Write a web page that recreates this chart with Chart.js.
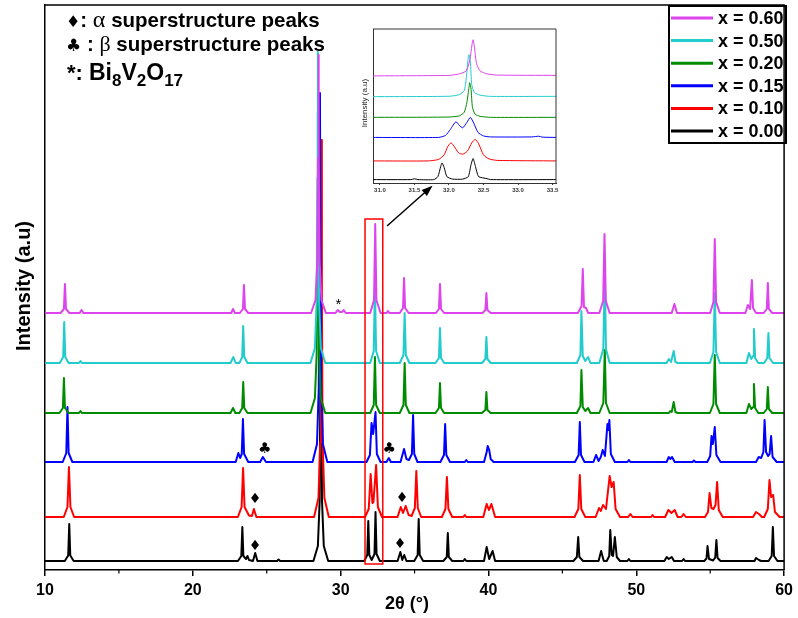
<!DOCTYPE html>
<html><head><meta charset="utf-8">
<script src="https://cdn.jsdelivr.net/npm/chart.js@4.4.0/dist/chart.umd.min.js"></script>
<style>
html,body{margin:0;padding:0;background:#fff;}
#wrap{position:relative;width:798px;height:618px;overflow:hidden;}
#main{position:absolute;left:0;top:0;width:798px;height:618px;}
#inset{position:absolute;left:355px;top:25px;width:210px;height:175px;}
</style></head><body>
<div id="wrap"><canvas id="main" width="798" height="618"></canvas><canvas id="inset" width="210" height="175"></canvas></div>
<script>
// ---------- DATA ----------
const seriesLabels = ['x = 0.60','x = 0.50','x = 0.20','x = 0.15','x = 0.10','x = 0.00'];
const seriesColors = ['#DD44EE','#22CCCC','#008C00','#0000FF','#FF0000','#000000'];
const stackOffsets = [257,207,157,108,53,9];
const xTicks = [10,20,30,40,50,60];
const xMinorTicks = [15,25,35,45,55];
const insetTicks = [31.0,31.5,32.0,32.5,33.0,33.5];
const insetOffsets = [106.7,86,65.4,45.4,22,3.4];

// 2theta, net intensity (a.u.)
const x060 = [[10,0],[11.05,0],[11.28,4],[11.35,29],[11.42,4],[11.65,0],[12.35,0],[12.47,3],[12.6,0],[22.6,0],[22.72,4],[22.85,0],[23.18,0],[23.39,4],[23.46,28],[23.53,4],[23.75,0],[28.0,0],[28.3,13],[28.42,52],[28.47,155],[28.5,258],[28.53,155],[28.58,52],[28.7,13],[29.0,0],[29.65,0],[29.8,3],[29.95,1],[30.1,1],[30.2,3],[30.35,0],[32.0,0],[32.26,13],[32.34,89],[32.42,13],[32.7,0],[33.1,0],[33.2,2],[33.3,0],[34.0,0],[34.22,5],[34.29,35],[34.36,5],[34.6,0],[36.45,0],[36.65,4],[36.72,29],[36.79,4],[37.0,0],[39.6,0],[39.79,3],[39.86,20],[39.93,3],[40.15,0],[46.05,0],[46.3,7],[46.38,44],[46.46,6],[46.6,5],[46.75,0],[47.5,0],[47.76,12],[47.85,79],[47.94,12],[48.2,0],[52.4,0],[52.58,9],[52.75,0],[55.0,0],[55.22,11],[55.31,74],[55.4,11],[55.65,0],[57.38,0],[57.55,8],[57.7,4],[57.82,33],[57.9,5],[58.1,0],[58.62,0],[58.83,4],[58.9,30],[58.97,4],[59.2,0],[60,0]];
const x050 = [[10,0],[11.0,0],[11.23,6],[11.3,41],[11.37,6],[11.6,0],[12.3,0],[12.4,2],[12.5,0],[22.55,0],[22.74,6],[22.9,0],[23.15,0],[23.34,6],[23.41,37],[23.48,6],[23.7,0],[27.96,0],[28.26,15],[28.38,62],[28.43,185],[28.46,311],[28.49,185],[28.54,62],[28.66,15],[28.96,0],[32.0,0],[32.24,12],[32.32,78],[32.4,12],[32.65,0],[34.0,0],[34.25,8],[34.33,50],[34.41,8],[34.65,0],[36.42,0],[36.65,5],[36.72,35],[36.79,5],[37.0,0],[39.56,0],[39.79,4],[39.86,26],[39.93,4],[40.15,0],[45.98,0],[46.22,8],[46.29,52],[46.38,7],[46.55,2],[46.74,6],[46.9,0],[47.5,0],[47.77,14],[47.87,90],[47.95,14],[48.2,0],[52.05,0],[52.2,4],[52.35,1],[52.53,12],[52.65,1],[52.8,0],[54.98,0],[55.22,11],[55.31,70],[55.4,11],[55.65,0],[57.45,0],[57.62,10],[57.78,4],[57.9,7],[57.96,34],[58.04,5],[58.25,0],[58.65,0],[58.86,5],[58.94,30],[59.01,5],[59.25,0],[60,0]];
const x020 = [[10,0],[10.98,0],[11.21,5],[11.28,35],[11.35,5],[11.6,0],[12.3,0],[12.4,2],[12.5,0],[22.55,0],[22.72,5],[22.88,0],[23.15,0],[23.34,5],[23.41,31],[23.48,5],[23.7,0],[27.96,0],[28.26,15],[28.38,60],[28.43,180],[28.46,300],[28.49,180],[28.54,60],[28.66,15],[28.96,0],[32.0,0],[32.24,8],[32.32,56],[32.4,8],[32.65,0],[34.0,0],[34.25,8],[34.33,50],[34.41,8],[34.65,0],[36.42,0],[36.65,5],[36.72,30],[36.79,5],[37.0,0],[39.56,0],[39.79,3],[39.86,21],[39.93,3],[40.15,0],[45.98,0],[46.22,7],[46.29,43],[46.38,6],[46.55,2],[46.74,5],[46.9,0],[47.5,0],[47.77,10],[47.87,63],[47.95,10],[48.2,0],[52.2,0],[52.3,2],[52.4,1],[52.53,11],[52.65,1],[52.8,0],[54.98,0],[55.22,9],[55.31,58],[55.4,9],[55.65,0],[57.45,0],[57.62,9],[57.78,4],[57.9,6],[57.96,29],[58.04,5],[58.25,0],[58.62,0],[58.83,4],[58.9,26],[58.97,4],[59.2,0],[60,0]];
const x015 = [[10,0],[11.2,0],[11.44,9],[11.52,55],[11.6,9],[11.85,0],[22.9,0],[23.08,9],[23.2,4],[23.31,8],[23.39,43],[23.47,8],[23.75,0],[24.55,0],[24.74,5],[24.95,0],[28.1,0],[28.4,18],[28.52,74],[28.57,220],[28.6,369],[28.63,220],[28.68,74],[28.8,18],[29.1,0],[31.75,0],[31.98,7],[32.09,39],[32.2,28],[32.36,50],[32.45,8],[32.7,0],[33.1,0],[33.26,4],[33.4,0],[34.05,0],[34.29,13],[34.45,3],[34.62,2],[34.82,8],[34.9,47],[34.98,8],[35.2,0],[36.75,0],[36.99,7],[37.07,38],[37.15,7],[37.4,0],[38.4,0],[38.5,2],[38.6,0],[39.7,0],[39.88,10],[39.95,16],[40.05,12],[40.15,3],[40.35,0],[45.85,0],[46.1,7],[46.18,40],[46.26,7],[46.5,0],[47.1,0],[47.28,7],[47.45,1],[47.6,5],[47.73,12],[47.88,6],[48.05,38],[48.12,32],[48.18,42],[48.28,8],[48.55,0],[49.4,0],[49.5,2],[49.6,0],[52.05,0],[52.2,5],[52.3,3],[52.42,5],[52.6,0],[53.8,0],[53.9,1.5],[54.0,0],[54.8,0],[55.0,6],[55.09,26],[55.18,18],[55.31,35],[55.42,7],[55.7,0],[58.1,0],[58.28,5],[58.45,4],[58.6,10],[58.68,42],[58.78,10],[58.92,6],[59.02,8],[59.12,26],[59.22,5],[59.5,0],[60,0]];
const x010 = [[10,0],[11.27,0],[11.52,10],[11.62,50],[11.72,10],[11.97,0],[23.05,0],[23.3,10],[23.4,49],[23.5,10],[23.8,1.5],[24.0,1],[24.13,8],[24.3,0],[28.2,0],[28.5,19],[28.62,75],[28.67,225],[28.7,377],[28.73,225],[28.78,75],[28.9,19],[29.2,0],[31.65,0],[31.9,8],[32.03,43],[32.15,14],[32.22,15],[32.4,52],[32.52,10],[32.8,0],[33.85,0],[34.07,10],[34.22,4],[34.4,11],[34.6,2],[34.8,1],[35.02,9],[35.12,46],[35.22,9],[35.45,0],[36.85,0],[37.09,8],[37.19,40],[37.29,8],[37.55,0],[38.3,0],[38.4,2],[38.5,0],[39.65,0],[39.88,13],[40.03,7],[40.2,13],[40.45,0],[45.82,0],[46.08,8],[46.18,42],[46.28,8],[46.55,0],[47.25,0],[47.48,9],[47.6,6],[47.75,12],[47.95,8],[48.2,41],[48.33,30],[48.47,35],[48.6,8],[48.9,0],[49.45,0],[49.6,3],[49.75,0],[51.0,0],[51.1,2],[51.2,0],[51.95,0],[52.17,7],[52.38,4],[52.6,7],[52.8,0],[53.05,0],[53.2,3],[53.35,0],[54.65,0],[54.85,5],[54.96,24],[55.08,9],[55.22,8],[55.36,12],[55.47,35],[55.58,7],[55.85,0],[57.9,0],[58.1,5],[58.3,3],[58.5,0],[58.65,0],[58.9,8],[59.01,37],[59.12,20],[59.26,22],[59.38,5],[59.7,0],[60,0]];
const x000 = [[10,0],[11.34,0],[11.57,5.5],[11.64,37],[11.71,5.5],[11.94,0],[23.05,0],[23.28,5],[23.35,34],[23.42,5],[23.6,2],[23.7,5],[23.8,1],[24.07,0],[24.22,8],[24.37,0],[25.7,0],[25.8,1.5],[25.9,0],[28.16,0],[28.46,15],[28.58,60],[28.63,180],[28.66,300],[28.69,180],[28.74,60],[28.86,15],[29.16,0],[31.6,0],[31.8,6],[31.87,40],[31.94,6],[32.1,1],[32.29,7],[32.36,49],[32.43,7],[32.65,0],[33.85,0],[34.04,9],[34.17,1],[34.3,6],[34.45,0],[34.98,0],[35.21,6],[35.28,42],[35.35,6],[35.58,0],[36.95,0],[37.18,4],[37.25,28],[37.32,4],[37.55,0],[38.3,0],[38.4,2],[38.5,0],[39.7,0],[39.88,14],[40.05,2],[40.28,10],[40.45,0],[45.75,0],[45.98,4],[46.07,24],[46.15,4],[46.4,0],[47.45,0],[47.62,10],[47.8,0],[48.0,0],[48.17,5],[48.24,31],[48.34,6],[48.43,5],[48.55,24],[48.68,4],[48.9,0],[49.4,0],[49.5,2],[49.6,0],[51.9,0],[52.06,4],[52.2,2],[52.4,4],[52.55,0],[53.1,0],[53.2,2],[53.3,0],[54.6,0],[54.75,2.5],[54.82,15],[54.92,2],[55.2,0.5],[55.34,3.5],[55.42,21],[55.5,3],[55.7,0],[58.0,0],[58.1,3],[58.3,1],[58.45,0],[58.95,0],[59.16,5],[59.24,34],[59.32,5],[59.55,0],[60,0]];

// inset (zoom 30.9 - 33.55)
const z060 = [[30.9,0],[32.0,0.5],[32.15,2],[32.25,5],[32.3,15],[32.34,34],[32.35,36],[32.37,28],[32.4,12],[32.45,5],[32.55,2],[32.7,0.8],[33.55,0.5]];
const z050 = [[30.9,0],[32.0,0.4],[32.15,2],[32.22,6],[32.25,18],[32.28,40],[32.29,42],[32.31,35],[32.33,12],[32.37,4],[32.45,1.5],[32.6,0.3],[33.55,0.3]];
const z020 = [[30.9,0],[32.0,0.3],[32.15,1.5],[32.22,5],[32.26,15],[32.29,30],[32.3,34.6],[32.32,28],[32.34,10],[32.38,3],[32.45,1],[32.6,0],[33.55,0]];
const z015 = [[30.9,0],[31.85,0],[31.95,2],[32.02,8],[32.1,15.6],[32.15,12],[32.2,9.6],[32.26,15],[32.31,20],[32.36,14],[32.42,5],[32.5,1.5],[32.6,0.5],[33.2,0.5],[33.3,1.2],[33.35,0.3],[33.55,0]];
const z010 = [[30.9,0],[31.7,0],[31.85,1.5],[31.93,6],[31.98,14],[32.03,18],[32.08,14],[32.14,8],[32.2,6.7],[32.27,10],[32.33,18],[32.38,21.4],[32.43,17],[32.5,6],[32.58,2],[32.7,0.5],[33.55,0]];
const z000 = [[30.9,0],[31.45,0],[31.5,0.8],[31.55,0],[31.78,0],[31.84,3],[31.88,13],[31.9,16.6],[31.93,12],[31.97,3],[32.05,0.5],[32.2,0.5],[32.28,3],[32.32,15],[32.35,21],[32.38,14],[32.43,3],[32.55,1],[32.6,0],[33.55,0]];

const mainSeries = [x060,x050,x020,x015,x010,x000];
const insetSeries = [z060,z050,z020,z015,z010,z000];

// ---------- MAIN CHART ----------
const SANS = '"Liberation Sans", Arial, sans-serif';
const SERIF = '"Liberation Serif", "Times New Roman", serif';
const SYM = '"DejaVu Sans", sans-serif';

function runs(ctx, x, y, parts){
  parts.forEach(p=>{ctx.font=p[1]; ctx.fillText(p[0], x, y+(p[2]||0)); x+=ctx.measureText(p[0]).width;});
}

const mainDecor = {
  id:'mainDecor',
  afterDraw(chart){
    const ctx=chart.ctx, xs=chart.scales.x, ys=chart.scales.y, a=chart.chartArea;
    ctx.save();
    ctx.strokeStyle='#000'; ctx.lineWidth=1.5;
    ctx.beginPath(); ctx.moveTo(a.left,a.top); ctx.lineTo(a.right,a.top); ctx.lineTo(a.right,a.bottom); ctx.stroke();
    ctx.lineWidth=1.2;
    xMinorTicks.forEach(v=>{const px=xs.getPixelForValue(v); ctx.beginPath(); ctx.moveTo(px,a.bottom); ctx.lineTo(px,a.bottom+3.5); ctx.stroke();});
    // axis titles
    ctx.fillStyle='#000'; ctx.textAlign='center'; ctx.textBaseline='middle';
    ctx.font='bold 18px '+SANS; ctx.fillText('2θ (°)', 407, 604);
    ctx.save(); ctx.translate(24,286); ctx.rotate(-Math.PI/2); ctx.font='bold 20px '+SANS; ctx.fillText('Intensity (a.u)',0,0); ctx.restore();
    // notes
    ctx.textAlign='left'; ctx.textBaseline='alphabetic';
    runs(ctx, 66, 27, [['♦','16px '+SYM],[': ','bold 20.5px '+SANS],['α','24px '+SERIF],[' superstructure peaks','bold 20.5px '+SANS]]);
    runs(ctx, 66, 51, [['♣','17px '+SYM],[' : ','bold 20.5px '+SANS],['β','22px '+SERIF],[' superstructure peaks','bold 20.5px '+SANS]]);
    runs(ctx, 67, 80, [['*','bold 22px '+SANS],[': ','bold 22px '+SANS],['Bi','bold 23px '+SANS],['8','bold 17px '+SANS,6],['V','bold 23px '+SANS],['2','bold 17px '+SANS,6],['O','bold 23px '+SANS],['17','bold 17px '+SANS,6]]);
    // markers on traces
    ctx.textAlign='center'; ctx.textBaseline='middle';
    const mk=[['♦',24.2,24,'14px '+SYM],['♦',34.02,26,'14px '+SYM],['♦',24.2,71,'14px '+SYM],['♦',34.16,72,'14px '+SYM],['♣',24.87,121,'15px '+SYM],['♣',33.28,121,'15px '+SYM],['*',29.85,265,'15px '+SANS]];
    mk.forEach(m=>{ctx.font=m[3]; ctx.fillText(m[0], xs.getPixelForValue(m[1]), ys.getPixelForValue(m[2]));});
    // red zoom box
    ctx.strokeStyle='#FF0000'; ctx.lineWidth=1.5;
    const bx1=xs.getPixelForValue(31.65), bx2=xs.getPixelForValue(32.85), by1=ys.getPixelForValue(351), by2=ys.getPixelForValue(6);
    ctx.strokeRect(bx1,by1,bx2-bx1,by2-by1);
    // arrow
    ctx.strokeStyle='#000'; ctx.fillStyle='#000'; ctx.lineWidth=1.5;
    const ax0=387, ay0=226, ax1=431, ay1=187;
    ctx.beginPath(); ctx.moveTo(ax0,ay0); ctx.lineTo(ax1,ay1); ctx.stroke();
    const ang=Math.atan2(ay1-ay0, ax1-ax0);
    ctx.beginPath(); ctx.moveTo(ax1+2*Math.cos(ang),ay1+2*Math.sin(ang));
    ctx.lineTo(ax1-9*Math.cos(ang)+4*Math.sin(ang), ay1-9*Math.sin(ang)-4*Math.cos(ang));
    ctx.lineTo(ax1-9*Math.cos(ang)-4*Math.sin(ang), ay1-9*Math.sin(ang)+4*Math.cos(ang));
    ctx.closePath(); ctx.fill();
    // legend
    ctx.strokeStyle='#000'; ctx.lineWidth=2;
    ctx.strokeRect(669,6,117,137);
    ctx.textAlign='left'; ctx.textBaseline='middle'; ctx.font='bold 18px '+SANS;
    seriesLabels.forEach((lab,i)=>{
      const y=18+i*22.6;
      ctx.strokeStyle=seriesColors[i]; ctx.lineWidth=3;
      ctx.beginPath(); ctx.moveTo(671,y); ctx.lineTo(713,y); ctx.stroke();
      ctx.fillStyle='#000'; ctx.fillText(lab,718,y+1);
    });
    ctx.restore();
  }
};

new Chart(document.getElementById('main'), {
  type:'line',
  data:{datasets: mainSeries.map((s,i)=>({
    label:seriesLabels[i],
    data:s.map(p=>({x:p[0], y:p[1]+stackOffsets[i]})),
    borderColor:seriesColors[i], borderWidth:2, pointRadius:0, fill:false, tension:0, borderJoinStyle:'round'
  }))},
  options:{
    responsive:false, animation:false, devicePixelRatio:1,
    layout:{padding:{top:5,right:10,left:0,bottom:0}},
    plugins:{legend:{display:false}, tooltip:{enabled:false}},
    scales:{
      x:{type:'linear', min:10, max:60,
        afterBuildTicks:s=>{s.ticks=xTicks.map(v=>({value:v}));},
        afterFit:s=>{s.height=48;},
        ticks:{color:'#000', font:{family:SANS, size:16, weight:'bold'}, padding:5, maxRotation:0, autoSkip:false},
        grid:{display:true, drawOnChartArea:false, drawTicks:true, tickLength:6, color:'#000', lineWidth:1.5},
        border:{display:true, color:'#000', width:1.5}},
      y:{type:'linear', min:0, max:565,
        afterFit:s=>{s.width=45;},
        ticks:{display:false},
        grid:{display:false},
        border:{display:true, color:'#000', width:1.5}}
    }
  },
  plugins:[mainDecor]
});

// ---------- INSET ----------
const insetDecor = {
  id:'insetDecor',
  afterDraw(chart){
    const ctx=chart.ctx, a=chart.chartArea;
    ctx.save();
    ctx.strokeStyle='#333'; ctx.lineWidth=1;
    ctx.beginPath(); ctx.moveTo(a.left,a.top); ctx.lineTo(a.right,a.top); ctx.lineTo(a.right,a.bottom); ctx.stroke();
    ctx.fillStyle='#222'; ctx.textAlign='center'; ctx.textBaseline='middle';
    ctx.translate(10,78); ctx.rotate(-Math.PI/2); ctx.font='8px '+SANS; ctx.fillText('Intensity (a.u)',0,0);
    ctx.restore();
  }
};

new Chart(document.getElementById('inset'), {
  type:'line',
  data:{datasets: insetSeries.map((s,i)=>({
    label:seriesLabels[i],
    data:s.map(p=>({x:p[0], y:p[1]+insetOffsets[i]})),
    borderColor:seriesColors[i], borderWidth:1, pointRadius:0, fill:false, tension:0.2
  }))},
  options:{
    responsive:false, animation:false, devicePixelRatio:1,
    layout:{padding:{top:4,right:9,left:0,bottom:0}},
    plugins:{legend:{display:false}, tooltip:{enabled:false}},
    scales:{
      x:{type:'linear', min:30.9, max:33.55,
        afterBuildTicks:s=>{s.ticks=insetTicks.map(v=>({value:v}));},
        afterFit:s=>{s.height=17;},
        ticks:{color:'#333', font:{family:SANS, size:6, weight:'bold'}, padding:2, maxRotation:0, autoSkip:false, callback:v=>Number(v).toFixed(1)},
        grid:{display:true, drawOnChartArea:false, drawTicks:true, tickLength:2, color:'#333', lineWidth:1},
        border:{display:true, color:'#333', width:1}},
      y:{type:'linear', min:0, max:153.4,
        afterFit:s=>{s.width=18;},
        ticks:{display:false},
        grid:{display:false},
        border:{display:true, color:'#333', width:1}}
    }
  },
  plugins:[insetDecor]
});
</script></body></html>
